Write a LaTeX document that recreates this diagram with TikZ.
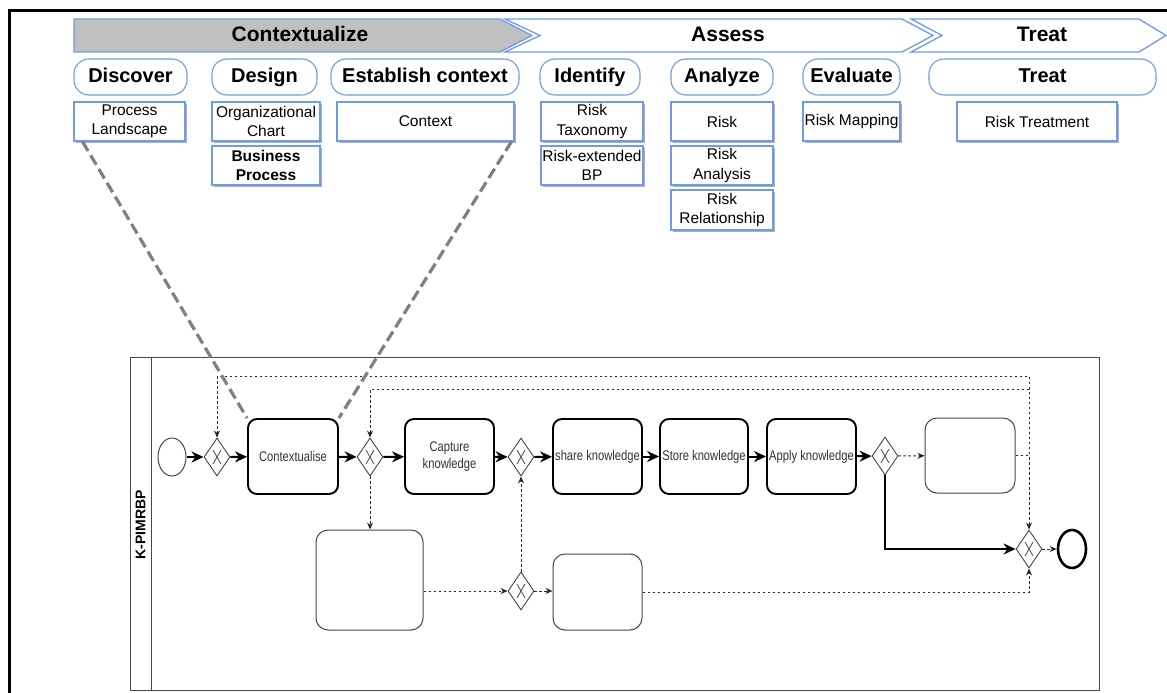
\documentclass[tikz,border=0pt]{standalone}
\usepackage{fontspec}
\usepackage{graphicx}
\setmainfont{Liberation Sans}
\usetikzlibrary{arrows.meta,shapes.geometric,shadows}
\definecolor{edgeblue}{RGB}{110,155,235}
\definecolor{bannergray}{RGB}{192,192,192}
\definecolor{linkgray}{RGB}{128,128,128}
\definecolor{inkgray}{RGB}{70,70,70}
\newcommand{\tklabel}[1]{\scalebox{0.8}[1]{#1}}

\begin{document}
\begin{tikzpicture}[x=1pt,y=-1pt,
  chevron/.style={draw=edgeblue,line width=1.3pt,line join=miter},
  phase/.style={font=\fontsize{21}{24}\selectfont\bfseries,inner sep=0pt},
  pill/.style={draw=edgeblue,line width=1.1pt,fill=white,rounded corners=15pt,
    minimum height=36pt,inner sep=0pt,text height=14.5pt,text depth=4pt,
    font=\fontsize{20}{24}\selectfont\bfseries},
  artifact/.style={draw=edgeblue,line width=1.1pt,fill=white,inner sep=0pt,align=center,
    font=\fontsize{15.5}{19.5}\selectfont,
    drop shadow={shadow xshift=2pt,shadow yshift=-2pt,fill=black!40,opacity=0.8}},
  task/.style={draw=black,line width=1.9pt,rounded corners=9pt,fill=white,align=center,
    inner sep=1pt,font=\fontsize{14}{17}\selectfont,text=black!80},
  emptytask/.style={draw=inkgray,line width=1pt,rounded corners=12pt,fill=white},
  event/.style={ellipse,draw=inkgray,line width=1pt,fill=white,minimum width=28pt,
    minimum height=38pt,inner sep=0pt},
  endevent/.style={event,draw=black,line width=2.6pt},
  gateway/.style={diamond,draw=inkgray,line width=0.9pt,fill=white,minimum width=26pt,
    minimum height=38pt,inner sep=0pt,
    path picture={\draw[inkgray,line width=0.8pt]
      ([shift={(-4pt,-7pt)}]path picture bounding box.center) --
      ([shift={(4pt,7pt)}]path picture bounding box.center)
      ([shift={(-4pt,7pt)}]path picture bounding box.center) --
      ([shift={(4pt,-7pt)}]path picture bounding box.center);}},
  flow/.style={line width=2pt,-{Stealth[length=12pt,width=11pt]}},
  dflow/.style={line width=1pt,draw=black!85,dash pattern=on 2.5pt off 2.5pt,
    -{Stealth[length=7pt,width=6pt]}},
  link/.style={draw=linkgray,line width=3.2pt,dash pattern=on 11pt off 5pt}
]
\useasboundingbox (0,0) rectangle (1167,693);

% outer frame
\draw[line width=3pt] (9.5,693) -- (9.5,10.5) -- (1167,10.5);

% phase banner
\draw[chevron,fill=bannergray] (74,19) -- (500,19) -- (532,35.5) -- (500,52) -- (74,52) -- cycle;
\draw[chevron,fill=white] (505,19) -- (902,19) -- (933,35.5) -- (902,52) -- (505,52) -- (540,35.5) -- cycle;
\draw[chevron,fill=white] (911,19) -- (1139,19) -- (1166,35.5) -- (1139,52) -- (911,52) -- (942,35.5) -- cycle;
\node[phase] (phC) at (300,34) {Contextualize};
\node[phase] (phA) at (728,34) {Assess};
\node[phase] (phT) at (1042,34) {Treat};

% activities
\node[pill,minimum width=113pt] (discover) at (130.5,77) {Discover};
\node[pill,minimum width=105pt] (design) at (264.5,77) {Design};
\node[pill,minimum width=188pt] (establish) at (425,77) {Establish context};
\node[pill,minimum width=100pt] (identify) at (590,77) {Identify};
\node[pill,minimum width=102pt] (analyze) at (722,77) {Analyze};
\node[pill,minimum width=97pt] (evaluate) at (851.5,77) {Evaluate};
\node[pill,minimum width=227pt] (treat) at (1042.5,77) {Treat};

% artifacts
\node[artifact,minimum width=111pt,minimum height=39pt] (pl) at (129.5,121.5) {Process\\Landscape};
\node[artifact,minimum width=108pt,minimum height=39pt] (oc) at (266,121.5) {Organizational\\Chart};
\node[artifact,minimum width=108pt,minimum height=39pt,font=\fontsize{15.5}{19.5}\selectfont\bfseries] (bp) at (266,165.5) {Business\\Process};
\node[artifact,minimum width=177pt,minimum height=39pt] (ctx) at (425.5,121.5) {Context};
\node[artifact,minimum width=102pt,minimum height=39pt] (rt) at (592,121.5) {Risk\\Taxonomy};
\node[artifact,minimum width=102pt,minimum height=39pt] (rebp) at (592,165.5) {Risk-extended\\BP};
\node[artifact,minimum width=102pt,minimum height=39pt] (risk) at (722,121.5) {Risk};
\node[artifact,minimum width=102pt,minimum height=39pt] (ra) at (722,165.5) {Risk\\Analysis};
\node[artifact,minimum width=102pt,minimum height=40pt] (rr) at (722,210) {Risk\\Relationship};
\node[artifact,minimum width=97pt,minimum height=39pt] (rm) at (851.5,121.5) {Risk Mapping};
\node[artifact,minimum width=160pt,minimum height=39pt] (rtr) at (1037,121.5) {Risk Treatment};

% pool and lane
\draw[draw=inkgray,line width=1pt] (130,357) rectangle (1099,690);
\draw[draw=inkgray,line width=1pt] (151,357) -- (151,690);
\node[rotate=90,font=\fontsize{14}{16}\selectfont\bfseries] (lane) at (140.5,525) {K-PIMRBP};

% process elements
\node[event] (start) at (172,457) {};
\node[gateway] (g1) at (217,457) {};
\node[task,minimum width=90pt,minimum height=75pt] (t1) at (293,456.5) {\tklabel{Contextualise}};
\node[gateway] (g2) at (370,457) {};
\node[task,minimum width=89pt,minimum height=75pt] (t2) at (449.5,456.5) {\tklabel{Capture}\\\tklabel{knowledge}};
\node[gateway] (g3) at (521,457) {};
\node[task,minimum width=89pt,minimum height=75pt] (t3) at (597.5,456.5) {\tklabel{share knowledge}};
\node[task,minimum width=88pt,minimum height=75pt] (t4) at (704,456.5) {\tklabel{Store knowledge}};
\node[task,minimum width=89pt,minimum height=75pt] (t5) at (811.5,456.5) {\tklabel{Apply knowledge}};
\node[gateway] (g4) at (885,456) {};
\node[emptytask,minimum width=90pt,minimum height=75pt] (t6) at (970,455.5) {};
\node[gateway] (g5) at (1029,549) {};
\node[endevent] (end) at (1072,549) {};
\node[emptytask,minimum width=107pt,minimum height=100pt] (t7) at (369.5,580) {};
\node[gateway] (g6) at (521,591) {};
\node[emptytask,minimum width=89pt,minimum height=76pt] (t8) at (597.5,592) {};

\coordinate (loopA) at (1029,376);
\coordinate (loopB) at (1029,389);

% sequence flows
\draw[flow] (start) -- (g1);
\draw[flow] (g1) -- (t1);
\draw[flow] (t1) -- (g2);
\draw[flow] (g2) -- (t2);
\draw[flow] (t2) -- (g3);
\draw[flow] (g3) -- (t3);
\draw[flow] (t3) -- (t4);
\draw[flow] (t4) -- (t5);
\draw[flow] (t5) -- (g4);
\draw[flow] (g4.south) |- (g5.west);

% optional flows
\draw[dflow] (g4) -- (t6);
\draw[dflow] (t6.east) -| (g5.north);
\draw[dflow] (t6.east) -| (loopA) -| (g1.north);
\draw[dflow] (t6.east) -| (loopB) -| (g2.north);
\draw[dflow] (g2.south) -- (g2.south |- t7.north);
\draw[dflow] (t7.east |- g6.west) -- (g6.west);
\draw[dflow] (g6.north) -- (g3.south);
\draw[dflow] (g6.east) -- (g6.east -| t8.west);
\draw[dflow] (t8.east) -| (g5.south);
\draw[dflow] (g5.east) -- (end.west);

% artifact links to the contextualise task
\draw[link] ([xshift=9pt]pl.south west) -- (t1.north west);
\draw[link] ([xshift=-3pt]ctx.south east) -- (t1.north east);
\end{tikzpicture}
\end{document}
